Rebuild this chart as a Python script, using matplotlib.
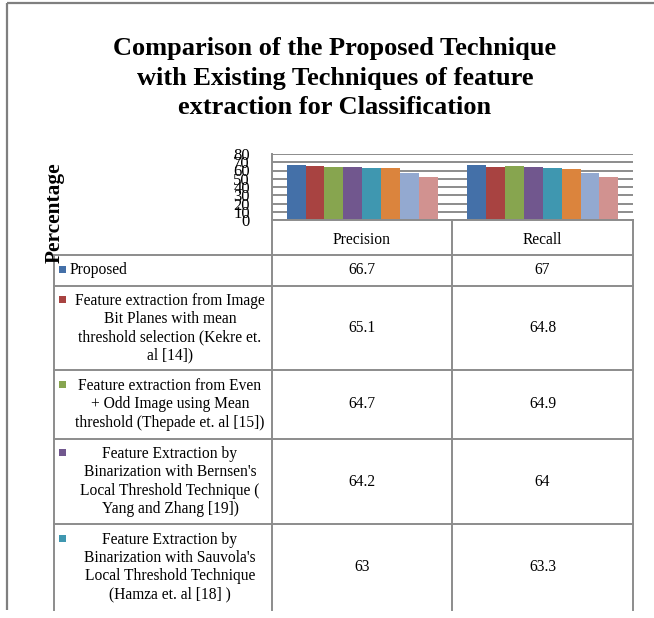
import matplotlib
matplotlib.use('Agg')
import matplotlib.pyplot as plt
from matplotlib.patches import Rectangle
import numpy as np

# ---------------- data ----------------
categories = ['Precision', 'Recall']
series_names = [
    "Proposed",
    "Feature extraction from Image\nBit Planes with mean\nthreshold selection (Kekre et.\nal [14])",
    "Feature extraction from Even\n+ Odd Image using Mean\nthreshold (Thepade et. al [15])",
    "Feature Extraction by\nBinarization with Bernsen's\nLocal Threshold Technique (\nYang and Zhang [19])",
    "Feature Extraction by\nBinarization with Sauvola's\nLocal Threshold Technique\n(Hamza et. al [18] )",
]
proposed = [66.7, 67]
kekre = [65.1, 64.8]
thepade = [64.7, 64.9]
bernsen = [64.2, 64]
sauvola = [63, 63.3]
series6 = [63.2, 62.3]   # row not visible in table (estimated from bars)
series7 = [56.8, 56.5]
series8 = [52.6, 51.6]
all_series = [proposed, kekre, thepade, bernsen, sauvola, series6, series7, series8]
colors = ['#4470A8', '#A84341', '#87A54F', '#71578E', '#3F97B0', '#DB843D', '#93A9D0', '#D19290']
y_ticks = list(range(0, 90, 10))
title = "Comparison of the Proposed Technique\nwith Existing Techniques of feature\nextraction for Classification"
y_label = "Percentage"

# ---------------- figure ----------------
W, H = 654, 618
fig = plt.figure(figsize=(W / 100, H / 100), dpi=100)
serif = ['Liberation Serif', 'DejaVu Serif']
fs = 11.2
gridc = '#8c8c8c'
lw = 1.4

def fx(px):
    return px / W

def fy(py):
    return 1 - py / H

# plot area (pixels)
pl, pr, pt, pb = 272, 633, 154, 220
ax = fig.add_axes([fx(pl), fy(pb), fx(pr) - fx(pl), fy(pt) - fy(pb)])
n = len(all_series)
group = 0.837
bw = group / n
x = np.arange(len(categories)) + 0.5
for i, (vals, c) in enumerate(zip(all_series, colors)):
    ax.bar(x - group / 2 + bw * (i + 0.5), vals, width=bw, color=c, edgecolor='none', zorder=3)
ax.set_xlim(0, len(categories))
ax.set_ylim(0, 80)
ax.set_yticks(y_ticks)
ax.set_yticklabels([str(t) for t in y_ticks], fontfamily=serif, fontsize=12)
ax.tick_params(axis='y', length=0, pad=16)
ax.set_xticks([])
for s in ax.spines.values():
    s.set_visible(False)
ax.yaxis.grid(True, color=gridc, lw=lw, zorder=0)
ax.set_axisbelow(True)
ax.patch.set_alpha(0)

# overlay in pixel coordinates
ov = fig.add_axes([0, 0, 1, 1])
ov.set_xlim(0, W)
ov.set_ylim(H, 0)
ov.axis('off')
ov.patch.set_alpha(0)

# outer frame
ov.plot([7, 7], [3, 610], color='#7f7f7f', lw=1.6, solid_capstyle='butt')
ov.plot([7, W], [3, 3], color='#7f7f7f', lw=1.6, solid_capstyle='butt')

# title and y label
ov.text(335, 78, title, ha='center', va='center', fontfamily=serif, fontweight='bold',
        fontsize=19, linespacing=1.38)
ov.text(55, 213, y_label, ha='center', va='center', rotation=90, fontfamily=serif,
        fontweight='bold', fontsize=15.4)

# table geometry
c0, c1, c2, c3 = 54, 272, 452, 633
rows = [255, 286, 370, 439, 524, 610]
tb = 610
# vertical lines
ov.plot([c1, c1], [pt, tb], color=gridc, lw=lw)
ov.plot([c2, c2], [pb, tb], color=gridc, lw=lw)
ov.plot([c3, c3], [pb, tb], color=gridc, lw=lw)
ov.plot([c0, c0], [rows[0], tb], color=gridc, lw=lw)
# horizontal lines
ov.plot([c1, c3], [pb, pb], color=gridc, lw=lw)
for r in rows[:-1]:
    ov.plot([c0, c3], [r, r], color=gridc, lw=lw)

# header
for j, cat in enumerate(categories):
    cx = (c1 + c2) / 2 if j == 0 else (c2 + c3) / 2
    ov.text(cx, (pb + rows[0]) / 2 + 2, cat, ha='center', va='center', fontfamily=serif, fontsize=fs)

# rows
line_h = 18.3
for i, name in enumerate(series_names):
    top, bot = rows[i], rows[i + 1]
    mid = (top + bot) / 2
    nl = name.count('\n') + 1
    first = mid - (nl - 1) / 2 * line_h
    ov.add_patch(Rectangle((59, first - 5), 7, 7, color=colors[i], lw=0))
    if nl == 1:
        ov.text(70, mid, name, ha='left', va='center', fontfamily=serif, fontsize=fs)
    else:
        ov.text(170, mid, name, ha='center', va='center', multialignment='center',
                fontfamily=serif, fontsize=fs, linespacing=1.17)
    vals = all_series[i]
    ov.text((c1 + c2) / 2, mid, f"{vals[0]:g}", ha='center', va='center', fontfamily=serif, fontsize=fs)
    ov.text((c2 + c3) / 2, mid, f"{vals[1]:g}", ha='center', va='center', fontfamily=serif, fontsize=fs)

fig.savefig('out.png', dpi=100)
